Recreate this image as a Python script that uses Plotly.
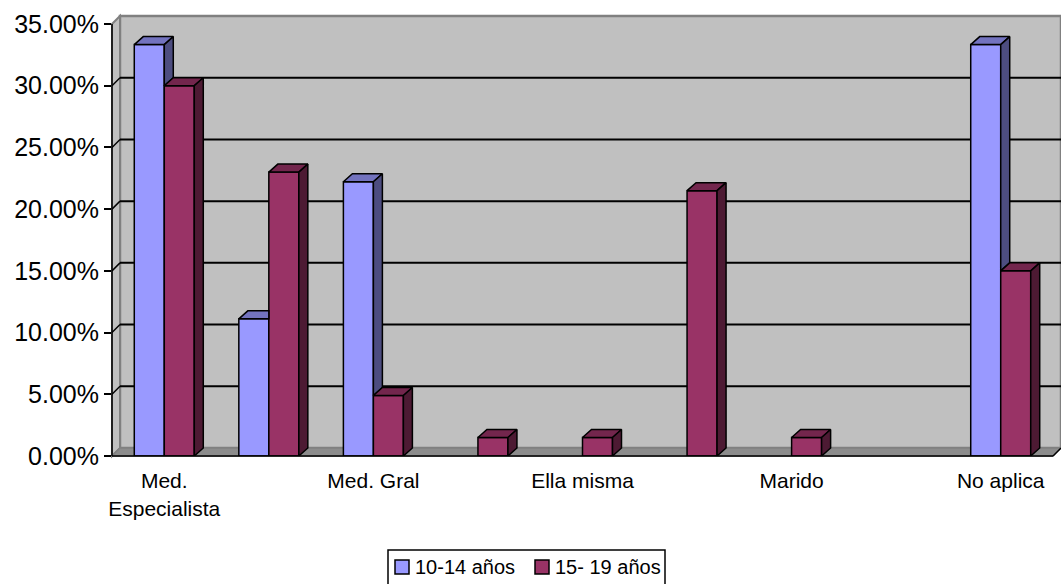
import plotly.graph_objects as go

# ---- data -------------------------------------------------------------
POSITIONS = list(range(9))
CATEGORY_LABELS = ["Med.<br>Especialista", "", "Med. Gral", "", "Ella misma", "",
                   "Marido", "", "No aplica"]
SERIES_NAMES = ["10-14 años", "15- 19 años"]
VALUES_10_14 = [33.33, 11.11, 22.22, 0, 0, 0, 0, 0, 33.33]
VALUES_15_19 = [30.0, 23.0, 4.9, 1.5, 1.5, 21.5, 1.5, 0, 15.0]
Y_TICKS = [0, 5, 10, 15, 20, 25, 30, 35]
Y_TICK_LABELS = ["0.00%", "5.00%", "10.00%", "15.00%", "20.00%", "25.00%", "30.00%", "35.00%"]

# ---- geometry (pixels) -------------------------------------------------
W, H = 1061, 584
M_L, M_R, M_T, M_B = 112, 0, 16, 128
WALL_DX_PX, WALL_DY_PX = 8, 8      # depth of the walls / floor
BAR_DX_PX, BAR_DY_PX = 9, 8        # depth of each bar
BAR_W_PX = 30

plot_w = W - M_L - M_R
plot_h = H - M_T - M_B
n_cat = len(POSITIONS)
y_max = max(Y_TICKS)

px_per_cat = (plot_w - WALL_DX_PX) / n_cat
px_per_val = (plot_h - WALL_DY_PX) / y_max

wdx = WALL_DX_PX / px_per_cat
wdy = WALL_DY_PX / px_per_val
bdx = BAR_DX_PX / px_per_cat
bdy = BAR_DY_PX / px_per_val
bw = BAR_W_PX / px_per_cat

x0, x1 = -0.5, n_cat - 0.5
x_range = [x0, x1 + wdx]
y_range = [0, y_max + wdy]

# colours
WALL = "#C0C0C0"
WALL_EDGE = "#808080"
FLOOR = "#8C8C8C"
BLUE = ["#9999FF", "#7373BF", "#4D4D80"]   # front, top, side
RED = ["#993366", "#73264D", "#4D1A33"]


def dx_(x):
    return (x - x_range[0]) / (x_range[1] - x_range[0])


def dy_(y):
    return (y - y_range[0]) / (y_range[1] - y_range[0])


def px_x(p):
    """page pixel column -> paper x"""
    return (p - M_L) / plot_w


def px_y(p):
    """page pixel row -> paper y"""
    return (H - M_B - p) / plot_h


def dpath(points):
    return "M " + " L ".join(f"{dx_(px):.5f},{dy_(py):.5f}" for px, py in points) + " Z"


shapes = []
annotations = []


def wall_shape(points, fill, edge, layer="below", width=1.5):
    shapes.append(dict(type="path", path=dpath(points), xref="x domain", yref="y domain",
                       fillcolor=fill, line=dict(color=edge, width=width), layer=layer))


def wall_line(p, q, color, width=1.5, layer="below"):
    shapes.append(dict(type="line", xref="x domain", yref="y domain",
                       x0=dx_(p[0]), y0=dy_(p[1]), x1=dx_(q[0]), y1=dy_(q[1]),
                       line=dict(color=color, width=width), layer=layer))


# back wall, left wall, floor
wall_shape([(x0 + wdx, wdy), (x1 + wdx, wdy), (x1 + wdx, y_max + wdy), (x0 + wdx, y_max + wdy)],
           WALL, WALL_EDGE, width=2.5)
wall_shape([(x0, 0), (x0 + wdx, wdy), (x0 + wdx, y_max + wdy), (x0, y_max)], WALL, WALL_EDGE,
           width=2)
wall_shape([(x0, 0), (x1, 0), (x1 + wdx, wdy), (x0 + wdx, wdy)], FLOOR, WALL_EDGE)

# gridlines on back and left walls
for v in Y_TICKS[1:-1]:
    wall_line((x0 + wdx, v + wdy), (x1 + wdx, v + wdy), "black", 2)
    wall_line((x0, v), (x0 + wdx, v + wdy), "black", 1.5)

# front axes lines
wall_line((x0, 0), (x0, y_max), "black", 1.5, layer="above")
wall_line((x0, 0), (x1, 0), "black", 1.5, layer="above")
wall_line((x1, 0), (x1 + wdx, wdy), "black", 1.5, layer="above")

fig = go.Figure()

# front faces
for name, vals, cols, off in [(SERIES_NAMES[0], VALUES_10_14, BLUE, -bw),
                              (SERIES_NAMES[1], VALUES_15_19, RED, 0.0)]:
    fig.add_trace(go.Bar(
        x=POSITIONS, y=[v if v > 0 else None for v in vals], name=name,
        width=bw, offset=off, showlegend=False,
        marker=dict(color=cols[0], line=dict(color="black", width=1.5)),
    ))


def face(points, color):
    xs = [p[0] for p in points] + [points[0][0]]
    ys = [p[1] for p in points] + [points[0][1]]
    fig.add_trace(go.Scatter(x=xs, y=ys, mode="lines", fill="toself", fillcolor=color,
                             line=dict(color="black", width=1.5), showlegend=False,
                             hoverinfo="skip"))


# depth faces: the front series first, clipped where the rear series hides it
for i, (vb, vr) in enumerate(zip(VALUES_10_14, VALUES_15_19)):
    left = i - bw
    seam = i
    if vb > 0:
        if vr < vb:
            face([(left, vb), (seam, vb), (seam + bdx, vb + bdy), (left + bdx, vb + bdy)], BLUE[1])
            face([(seam, max(vr, 0)), (seam, vb), (seam + bdx, vb + bdy),
                  (seam + bdx, max(vr, 0) + bdy)], BLUE[2])
        else:
            face([(left, vb), (seam, vb), (seam, vb + bdy), (left + bdx, vb + bdy)], BLUE[1])
    if vr > 0:
        right = i + bw
        face([(seam, vr), (right, vr), (right + bdx, vr + bdy), (seam + bdx, vr + bdy)], RED[1])
        face([(right, 0), (right, vr), (right + bdx, vr + bdy), (right + bdx, bdy)], RED[2])

# legend box below the chart
LEG_BOX = (388, 550, 665, 600)
shapes.append(dict(type="rect", xref="paper", yref="paper",
                   x0=px_x(LEG_BOX[0]), x1=px_x(LEG_BOX[2]),
                   y0=px_y(LEG_BOX[1]), y1=px_y(LEG_BOX[3]),
                   line=dict(color="black", width=1.5), fillcolor="white", layer="above"))
LEG_ITEMS_X = [395, 535]
LEG_ROW_Y = 567
for lx, name, col in zip(LEG_ITEMS_X, SERIES_NAMES, [BLUE[0], RED[0]]):
    shapes.append(dict(type="rect", xref="paper", yref="paper",
                       x0=px_x(lx), x1=px_x(lx + 14),
                       y0=px_y(LEG_ROW_Y - 7), y1=px_y(LEG_ROW_Y + 7),
                       line=dict(color="black", width=1.5), fillcolor=col, layer="above"))
    annotations.append(dict(text=name, xref="paper", yref="paper",
                            x=px_x(lx + 18), y=px_y(LEG_ROW_Y),
                            xanchor="left", yanchor="middle", showarrow=False,
                            font=dict(size=20, color="black")))

label_pos = [p for p, t in zip(POSITIONS, CATEGORY_LABELS) if t]
label_txt = [t for t in CATEGORY_LABELS if t]

fig.update_layout(
    width=W, height=H,
    margin=dict(l=M_L, r=M_R, t=M_T, b=M_B, pad=0, autoexpand=False),
    paper_bgcolor="white", plot_bgcolor="white",
    barmode="overlay",
    font=dict(family="Liberation Sans, Arial, sans-serif", color="black"),
    shapes=shapes,
    annotations=annotations,
    xaxis=dict(range=x_range, tickvals=label_pos, ticktext=label_txt,
               ticks="outside", ticklen=6, tickcolor="rgba(0,0,0,0)",
               showgrid=False, zeroline=False, showline=False,
               tickfont=dict(size=21), fixedrange=True),
    xaxis2=dict(range=x_range, overlaying="x", anchor="y", side="bottom",
                tickvals=[p - 0.5 for p in POSITIONS] + [x1],
                ticks="outside", ticklen=6, tickwidth=1.5, tickcolor="black",
                showticklabels=False, showgrid=False, zeroline=False, showline=False),
    yaxis=dict(range=y_range, tickvals=Y_TICKS, ticktext=Y_TICK_LABELS,
               ticks="outside", ticklen=7, tickwidth=1.5, tickcolor="black",
               showgrid=False, zeroline=False, showline=False,
               tickfont=dict(size=25), fixedrange=True),
    showlegend=False,
)

fig.write_html("out.html")
